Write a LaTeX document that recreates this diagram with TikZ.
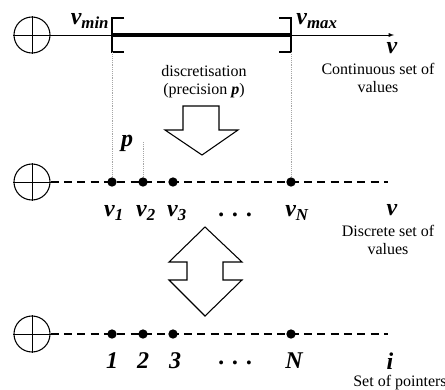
\documentclass[tikz,border=0pt]{standalone}
\usepackage{fontspec}
\setmainfont{Liberation Serif}
\usetikzlibrary{arrows}
\begin{document}
\begin{tikzpicture}[x=0.75pt, y=-0.75pt,
origin node/.style={shape=circle, draw, thick, minimum size=27pt, inner sep=0pt},
point node/.style={shape=circle, fill=black, minimum size=7pt, inner sep=0pt},
var node/.style={font=\fontsize{18}{20}\selectfont\bfseries\itshape, inner sep=0pt},
text node/.style={font=\fontsize{12}{13.5}\selectfont, align=center, inner sep=0pt},
axis line/.style={dash pattern=on 6pt off 4pt, thick},
guide line/.style={densely dotted, gray!70, thin},
big arrow/.style={draw, thick, fill=white, line join=miter}]
\useasboundingbox (0,0) rectangle (445,389);
% continuous axis
\node[origin node] (O1) at (32,35) {};
\draw (O1.north) -- (O1.south) (O1.west) -- (O1.east);
\coordinate (E1) at (394,35);
\coordinate (Vmin) at (112,35);
\coordinate (Vmax) at (291,35);
\draw [-latex] (O1) -- (E1);
\draw [line width=3pt] (Vmin) -- (Vmax);
\draw [line width=1.5pt] ([xshift=9pt,yshift=13pt]Vmin) -- ([yshift=13pt]Vmin) -- ([yshift=-13pt]Vmin) -- ([xshift=9pt,yshift=-13pt]Vmin);
\draw [line width=1.5pt] ([xshift=-9pt,yshift=13pt]Vmax) -- ([yshift=13pt]Vmax) -- ([yshift=-13pt]Vmax) -- ([xshift=-9pt,yshift=-13pt]Vmax);
\node[var node] (LVmin) at (90,21) {v\textsubscript{min}};
\node[var node] (LVmax) at (317,21) {v\textsubscript{max}};
\node[var node] (LV1) at (392,48) {v};
\node[text node] (T1) at (378,78) {Continuous set of\\values};
\node[text node] (TD) at (204,82) {discretisation\\(precision {\bfseries\itshape p})};
% discretisation arrow
\draw[big arrow] (183,106) -- (219,106) -- (219,130) -- (238,130) -- (202,155) -- (165,130) -- (183,130) -- cycle;
% discrete axis
\node[origin node] (O2) at (32,182) {};
\draw (O2.north) -- (O2.south) (O2.west) -- (O2.east);
\coordinate (E2) at (388,182);
\draw [axis line] (O2) -- (E2);
\node[point node] (D1) at (112,182) {};
\node[point node] (D2) at (143,182) {};
\node[point node] (D3) at (173,182) {};
\node[point node] (DN) at (291,182) {};
\coordinate (P) at (143,142);
\draw [guide line] ([yshift=-13pt]Vmin) -- (D1);
\draw [guide line] ([yshift=-13pt]Vmax) -- (DN);
\draw [guide line] (P) -- (D2);
\node[var node] (LP) at (127,143) {p};
\node[var node] (L1) at (114,213) {v\textsubscript{1}};
\node[var node] (L2) at (146,213) {v\textsubscript{2}};
\node[var node] (L3) at (177,213) {v\textsubscript{3}};
\node[var node] (LD) at (236,215) {. . .};
\node[var node] (LN) at (297,213) {v\textsubscript{N}};
\node[var node] (LV2) at (392,210) {v};
\node[text node] (T2) at (388,240) {Discrete set of\\values};
% correspondence arrow
\draw[big arrow] (205,227) -- (242,262) -- (223,262) -- (223,280) -- (242,280) -- (205,316) -- (169,280) -- (187,280) -- (187,262) -- (169,262) -- cycle;
% pointers axis
\node[origin node] (O3) at (32,334) {};
\draw (O3.north) -- (O3.south) (O3.west) -- (O3.east);
\coordinate (E3) at (388,334);
\draw [axis line] (O3) -- (E3);
\node[point node] (I1) at (112,334) {};
\node[point node] (I2) at (143,334) {};
\node[point node] (I3) at (173,334) {};
\node[point node] (IN) at (291,334) {};
\node[var node] (K1) at (112,361) {1};
\node[var node] (K2) at (143,361) {2};
\node[var node] (K3) at (175,361) {3};
\node[var node] (KD) at (236,363) {. . .};
\node[var node] (KN) at (294,361) {N};
\node[var node] (KI) at (390,361) {i};
\node[text node] (T3) at (400,383) {Set of pointers};
\end{tikzpicture}
\end{document}
